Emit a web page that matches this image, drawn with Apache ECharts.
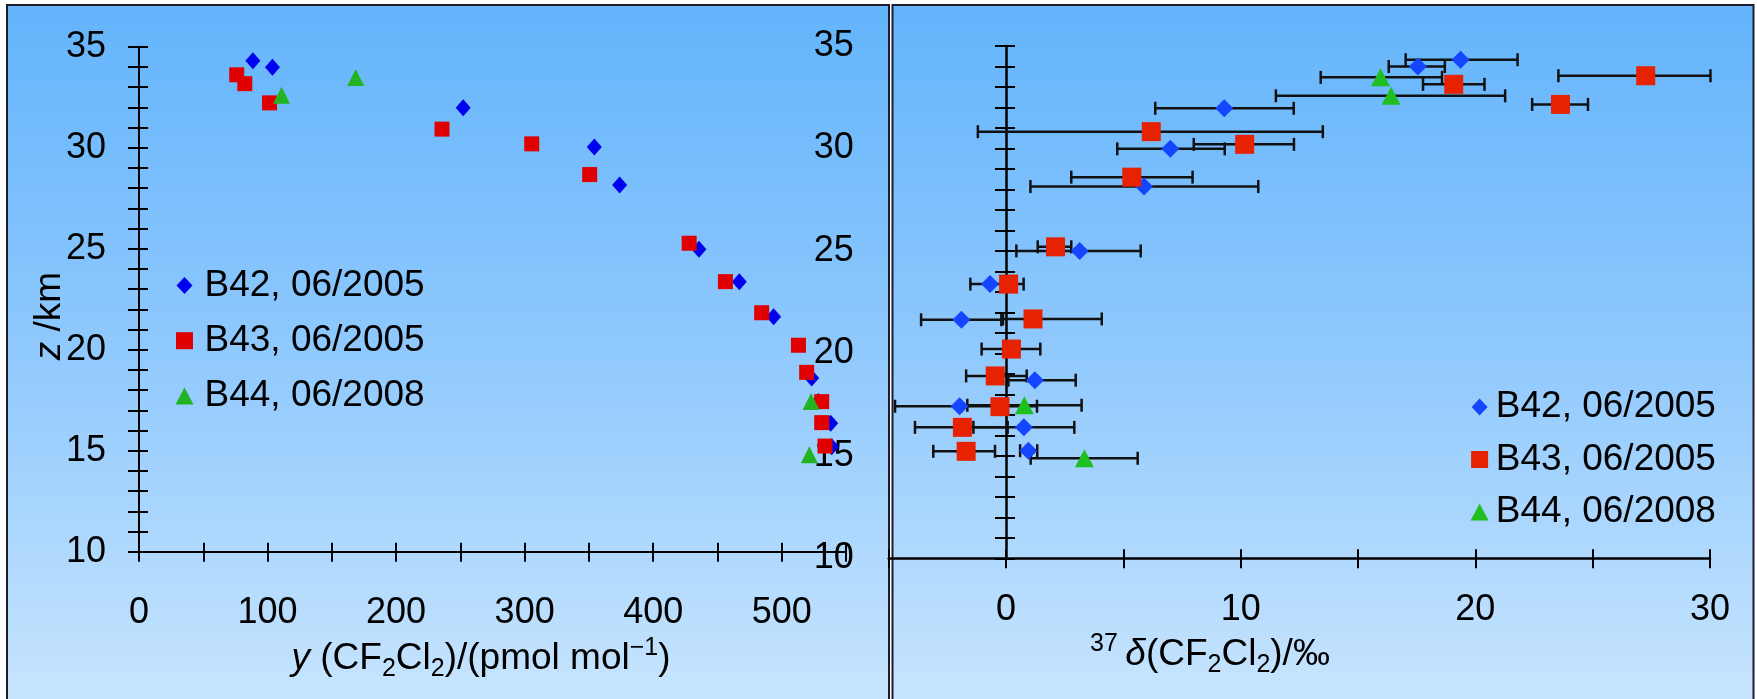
<!DOCTYPE html>
<html><head><meta charset="utf-8">
<script src="https://cdn.jsdelivr.net/npm/echarts@6/dist/echarts.min.js"></script>
<style>html,body{margin:0;padding:0;background:#ffffff}#c{width:1757px;height:699px}</style>
</head><body><div id="c"></div>
<script>
// ---- Data ----
const seriesNames = ['B42, 06/2005', 'B43, 06/2005', 'B44, 06/2008'];
// Left panel: [y(CF2Cl2) in pmol/mol, z in km]
const b42Mix = [[88.6,34.3],[103.8,33.98],[252.2,31.98],[354.2,30.03],[373.9,28.15],[435.6,24.97],[467.0,23.36],[493.7,21.63],[523.3,18.6],[528.6,17.44],[538.1,16.36],[538.9,15.2]];
const b43Mix = [[76.0,33.61],[82.3,33.17],[101.5,32.22],[235.7,30.92],[305.5,30.19],[350.6,28.67],[428.0,25.27],[456.2,23.37],[484.4,21.83],[513.0,20.22],[519.4,18.88],[531.1,17.43],[531.1,16.39],[533.7,15.23]];
const b44Mix = [[168.6,33.47],[110.9,32.6],[522.8,17.44],[521.5,14.8]];
// Right panel: [delta37 in permil, z in km, error low, error high]
const b42Delta = [[19.37,34.33,17.03,21.80],[17.55,34.0,16.31,18.70],[9.30,31.96,6.36,12.26],[7.00,29.98,4.74,9.32],[5.88,28.14,1.04,10.75],[3.14,25.0,0.44,5.74],[-0.68,23.38,-1.52,0.75],[-1.90,21.64,-3.62,-0.20],[1.23,18.69,0.10,2.97],[-1.98,17.42,-4.73,1.32],[0.76,16.39,-1.39,2.91],[0.95,15.25,0.60,1.33]];
const b43Delta = [[27.26,33.55,23.54,30.02],[19.08,33.13,17.77,20.39],[23.63,32.15,22.42,24.80],[6.19,30.82,-1.20,13.50],[10.17,30.2,8.00,12.27],[5.36,28.6,2.78,7.95],[2.11,25.2,1.35,2.78],[0.11,23.38,null,null],[1.15,21.68,-0.13,4.08],[0.23,20.21,-1.04,1.46],[-0.46,18.9,-1.70,0.88],[-0.26,17.4,null,null],[-1.86,16.39,-3.88,0.07],[-1.70,15.22,-3.10,-0.47]];
const b44Delta = [[15.96,33.47,13.41,18.58],[16.41,32.57,11.50,21.27],[0.78,17.47,-1.65,3.22],[3.34,14.88,1.05,5.61]];
// Tick labels
const zTickLabels = [10, 15, 20, 25, 30, 35];
const mixTickLabels = [0, 100, 200, 300, 400, 500];
const deltaTickLabels = [0, 10, 20, 30];

const FONT = "'Liberation Sans', Arial, sans-serif";
const leftColors = ['#0000f0', '#e00000', '#22b422'];
const rightColors = ['#1446ff', '#e62200', '#1fbf1f'];
const symbols = ['diamond', 'rect', 'triangle'];
const legendIcons = ['path://M8,0L16,8.5L8,17L0,8.5Z', 'path://M0,0H16V16H0Z', 'path://M9,0L18,17H0Z'];

function fmt(list) { return v => (list.indexOf(Math.round(v * 1000) / 1000) >= 0 ? String(v) : ''); }

function errRender(params, api) {
  const lo = api.value(2), hi = api.value(3);
  if (lo == null || hi == null || isNaN(lo) || isNaN(hi)) return null;
  const y = api.value(1);
  const p1 = api.coord([lo, y]), p2 = api.coord([hi, y]);
  const h = 6.5;
  const st = { stroke: '#111111', lineWidth: 2.5 };
  return { type: 'group', children: [
    { type: 'line', shape: { x1: p1[0], y1: p1[1], x2: p2[0], y2: p2[1] }, style: st },
    { type: 'line', shape: { x1: p1[0], y1: p1[1] - h, x2: p1[0], y2: p1[1] + h }, style: st },
    { type: 'line', shape: { x1: p2[0], y1: p2[1] - h, x2: p2[0], y2: p2[1] + h }, style: st }
  ]};
}

const labelStyle = { color: '#000', fontFamily: FONT, fontSize: 36, lineHeight: 36 };

function mainX(grid, min, max, interval, labels, margin, lw) {
  return { gridIndex: grid, type: 'value', position: 'bottom', min, max, interval,
    axisLine: { show: true, onZero: false, lineStyle: { color: '#000', width: lw } },
    axisTick: { show: true, inside: true, length: 9, lineStyle: { color: '#000', width: 2 } },
    axisLabel: Object.assign({ margin, formatter: fmt(labels), showMinLabel: true, showMaxLabel: true }, labelStyle),
    splitLine: { show: false } };
}
function dupX(grid, min, max, interval) {
  return { gridIndex: grid, type: 'value', position: 'bottom', min, max, interval,
    axisLine: { show: false, onZero: false },
    axisTick: { show: true, inside: false, length: 10, lineStyle: { color: '#000', width: 2 } },
    axisLabel: { show: false }, splitLine: { show: false } };
}
function mainY(grid, margin, lw, onZeroIdx) {
  return { gridIndex: grid, type: 'value', position: 'left', min: 10, max: 35, interval: 1,
    axisLine: onZeroIdx == null ? { show: true, onZero: false, lineStyle: { color: '#000', width: lw } }
                                : { show: true, onZero: true, onZeroAxisIndex: onZeroIdx, lineStyle: { color: '#000', width: lw } },
    axisTick: { show: true, inside: true, length: 9, lineStyle: { color: '#000', width: 2 } },
    axisLabel: Object.assign({ margin, formatter: fmt(zTickLabels), padding: [6, 0, 0, 0], showMinLabel: true, showMaxLabel: true }, labelStyle, { lineHeight: 36 }),
    splitLine: { show: false } };
}
function dupY(grid, onZeroIdx) {
  return { gridIndex: grid, type: 'value', position: 'left', min: 10, max: 35, interval: 1,
    axisLine: onZeroIdx == null ? { show: false, onZero: false } : { show: false, onZero: true, onZeroAxisIndex: onZeroIdx },
    axisTick: { show: true, inside: false, length: 11, lineStyle: { color: '#000', width: 2 } },
    axisLabel: { show: false }, splitLine: { show: false } };
}

const mixData = [b42Mix, b43Mix, b44Mix];
const deltaData = [b42Delta, b43Delta, b44Delta];
const leftSizes = [[15, 17], [15, 15], [17, 17]];
const rightSizes = [[18, 18], [19, 19], [19, 18]];

const series = [];
for (let i = 0; i < 3; i++) {
  series.push({ name: seriesNames[i], type: 'scatter', xAxisIndex: 0, yAxisIndex: 0, data: mixData[i],
    symbol: symbols[i], symbolSize: leftSizes[i], itemStyle: { color: leftColors[i], opacity: 1 }, z: 3 + i });
}
for (let i = 0; i < 3; i++) {
  series.push({ type: 'custom', xAxisIndex: 2, yAxisIndex: 2, data: deltaData[i], renderItem: errRender,
    encode: { x: 0, y: 1 }, z: 2, silent: true });
}
for (let i = 0; i < 3; i++) {
  series.push({ name: seriesNames[i], type: 'scatter', xAxisIndex: 2, yAxisIndex: 2,
    data: deltaData[i].map(d => [d[0], d[1]]),
    symbol: symbols[i], symbolSize: rightSizes[i], itemStyle: { color: rightColors[i], opacity: 1 }, z: 3 + i });
}

function legendData(colors) {
  return seriesNames.map((n, i) => ({ name: n, icon: legendIcons[i], itemStyle: { color: colors[i] } }));
}

const panelGrad = { type: 'linear', x: 0, y: 0, x2: 0, y2: 1, colorStops: [
  { offset: 0, color: '#63b4fc' }, { offset: 0.5, color: '#90c9fd' }, { offset: 1, color: '#c8e5fe' }] };

const legendText = { color: '#000', fontFamily: FONT, fontSize: 37, lineHeight: 36 };

const option = {
  animation: false,
  backgroundColor: '#ffffff',
  grid: [
    { left: 139, top: 46.7, width: 707, height: 505, containLabel: false },
    { left: 888.7, top: 46, width: 821.3, height: 512.3, containLabel: false }
  ],
  xAxis: [ mainX(0, 0, 550, 50, mixTickLabels, 43, 2), dupX(0, 0, 550, 50),
           mainX(1, -5, 30, 5, deltaTickLabels, 34, 2.5), dupX(1, -5, 30, 5) ],
  yAxis: [ mainY(0, 33, 2, null), dupY(0, null), mainY(1, 35, 2.5, 2), dupY(1, 2) ],
  legend: [
    { orient: 'vertical', left: 175.5, top: 267, padding: 0, itemWidth: 30, itemHeight: 17, itemGap: 18.2,
      symbolKeepAspect: true, selectedMode: false, textStyle: legendText, data: legendData(leftColors) },
    { orient: 'vertical', left: 1470.6, top: 388.5, padding: 0, itemWidth: 22.4, itemHeight: 17, itemGap: 15.5,
      symbolKeepAspect: true, selectedMode: false, textStyle: legendText, data: legendData(rightColors) }
  ],
  graphic: [
    { type: 'rect', z: -100, shape: { x: 7, y: 5, width: 882, height: 700 }, style: { fill: panelGrad, stroke: '#1c1c2c', lineWidth: 2 } },
    { type: 'rect', z: -100, shape: { x: 892.5, y: 5, width: 861, height: 700 }, style: { fill: panelGrad, stroke: '#1c1c2c', lineWidth: 2 } },
    { type: 'text', z: 50, x: 481, y: 659, style: {
        text: '{i|y} (CF{s|2}Cl{s|2})/(pmol mol{p|−1})', fill: '#000', font: "37px 'Liberation Sans', Arial, sans-serif",
        align: 'center', verticalAlign: 'middle', lineHeight: 46,
        rich: { i: { fontStyle: 'italic', fontSize: 37, fontFamily: FONT, lineHeight: 46 },
                s: { fontSize: 25, fontFamily: FONT, lineHeight: 25, verticalAlign: 'bottom' },
                p: { fontSize: 25, fontFamily: FONT, lineHeight: 25, verticalAlign: 'top' } } } },
    { type: 'text', z: 50, x: 1210, y: 655, style: {
        text: '{p|37}\u2009{i|δ}(CF{s|2}Cl{s|2})/‰', fill: '#000', font: "37px 'Liberation Sans', Arial, sans-serif",
        align: 'center', verticalAlign: 'middle', lineHeight: 46,
        rich: { i: { fontStyle: 'italic', fontSize: 37, fontFamily: FONT, lineHeight: 46 },
                s: { fontSize: 25, fontFamily: FONT, lineHeight: 25, verticalAlign: 'bottom' },
                p: { fontSize: 25, fontFamily: FONT, lineHeight: 25, verticalAlign: 'top' } } } },
    { type: 'text', z: 50, x: 50, y: 316, rotation: Math.PI / 2, style: {
        text: '{i|z} /km', fill: '#000', font: "37px 'Liberation Sans', Arial, sans-serif",
        align: 'center', verticalAlign: 'middle', lineHeight: 46,
        rich: { i: { fontStyle: 'italic', fontSize: 37, fontFamily: FONT, lineHeight: 46 } } } }
  ],
  series
};
const chart = echarts.init(document.getElementById('c'), null, { renderer: 'canvas' });
chart.setOption(option);
</script></body></html>
